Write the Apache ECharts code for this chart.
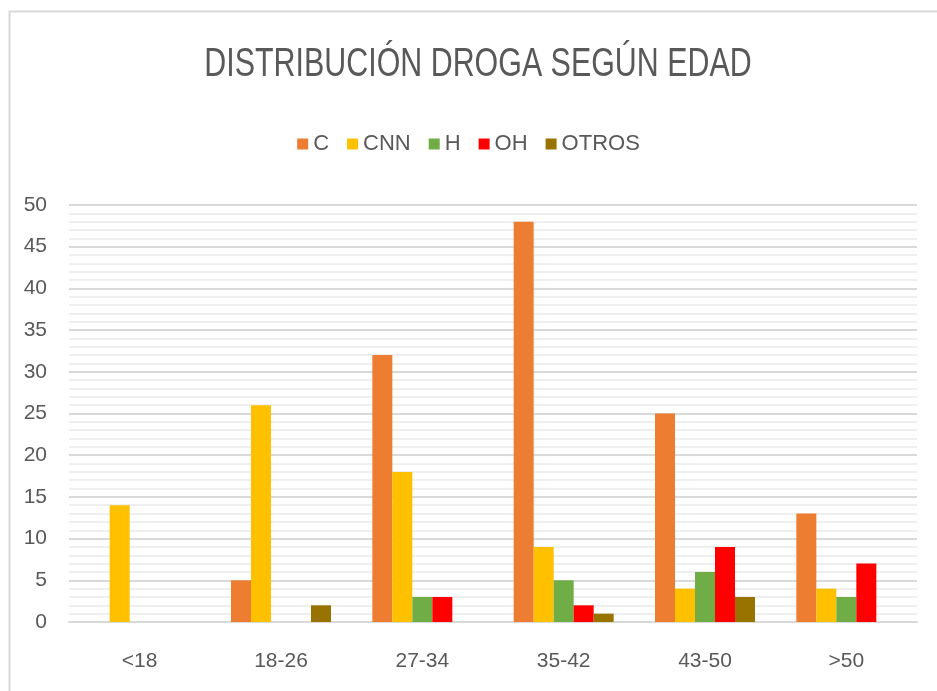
<!DOCTYPE html>
<html lang="es">
<head>
    <meta charset="UTF-8">
    <title>Distribución droga según edad</title>
    <script src="https://cdn.jsdelivr.net/npm/echarts@6/dist/echarts.min.js"></script>
    <style>
        html, body { margin: 0; padding: 0; background: #fff; }
        #container { width: 937px; height: 691px; }
    </style>
</head>
<body>
<div id="container"></div>
<script>
    // datos
    var categorias = ['<18', '18-26', '27-34', '35-42', '43-50', '>50'];
    var serieC     = [0, 5, 32, 48, 25, 13];
    var serieCNN   = [14, 26, 18, 9, 4, 4];
    var serieH     = [0, 0, 3, 5, 6, 3];
    var serieOH    = [0, 0, 3, 2, 9, 7];
    var serieOTROS = [0, 2, 0, 1, 3, 0];

    var nombres = ['C', 'CNN', 'H', 'OH', 'OTROS'];
    var colores = ['#ED7D31', '#FFC000', '#70AD47', '#FF0000', '#997300'];
    var datos = [serieC, serieCNN, serieH, serieOH, serieOTROS];

    var fuente = '"Liberation Sans", Arial, sans-serif';
    var gris = '#595959';

    var myChart = echarts.init(document.getElementById('container'));

    var series = [];
    for (var i = 0; i < nombres.length; i++) {
        series.push({
            type: 'bar',
            name: nombres[i],
            data: datos[i],
            barWidth: 20,
            barGap: '0%',
            itemStyle: { color: colores[i] }
        });
    }

    var option = {
        animation: false,
        color: colores,
        graphic: [{
            type: 'rect',
            left: 7, top: 9,
            shape: { width: 940, height: 700 },
            style: { fill: 'none', stroke: '#d9d9d9', lineWidth: 2 },
            silent: true
        }, {
            // título estrecho como en el original
            type: 'text',
            x: 478, y: 65,
            scaleX: 0.76,
            style: {
                text: 'DISTRIBUCIÓN DROGA SEGÚN EDAD',
                font: '40px ' + fuente,
                fill: gris,
                textAlign: 'center',
                textVerticalAlign: 'middle'
            },
            silent: true
        }],
        legend: {
            top: 128,
            left: 'center',
            itemWidth: 11,
            itemHeight: 11,
            itemGap: 18,
            icon: 'rect',
            textStyle: { fontFamily: fuente, fontSize: 22, color: gris }
        },
        grid: { left: 69, right: 20, top: 205, bottom: 69 },
        xAxis: {
            type: 'category',
            data: categorias,
            axisTick: { show: false },
            axisLine: { lineStyle: { color: '#d9d9d9', width: 2 } },
            axisLabel: { fontFamily: fuente, fontSize: 21, color: gris, margin: 29 }
        },
        yAxis: {
            type: 'value',
            min: 0,
            max: 50,
            interval: 5,
            axisLine: { show: false },
            axisTick: { show: false },
            axisLabel: { fontFamily: fuente, fontSize: 21, color: gris, margin: 22 },
            splitLine: { lineStyle: { color: '#d9d9d9', width: 2 } },
            minorTick: { show: false, splitNumber: 5 },
            minorSplitLine: { show: true, lineStyle: { color: '#efefef', width: 2 } }
        },
        series: series
    };

    myChart.setOption(option);
</script>
</body>
</html>
